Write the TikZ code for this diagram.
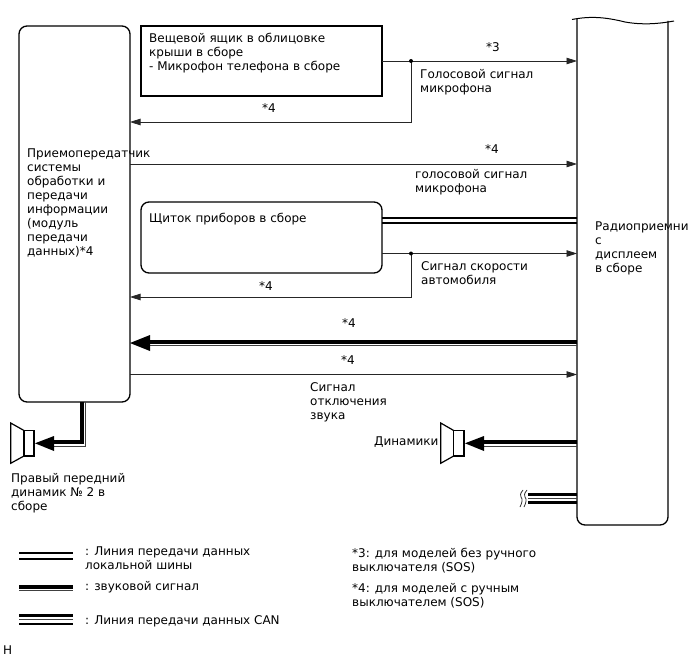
\documentclass[tikz,border=0pt]{standalone}
\usepackage{fontspec}
\setmainfont{DejaVu Sans}
\usetikzlibrary{arrows.meta}
\tikzset{
  lbl/.style={anchor=north west,inner sep=0pt,align=left,font=\fontsize{12}{14}\selectfont,text=black},
  box/.style={draw=black,line width=1.3pt},
  wire/.style={draw=black!85,line width=0.8pt},
  sig/.style={wire,-{Triangle[length=10.5pt,width=6.5pt]}},
  joint/.style={circle,fill=black,inner sep=0pt,minimum size=4pt},
  heavy/.style={draw=black,line width=3.8pt},
  fine/.style={draw=black!75,line width=1pt},
  busline/.style={draw=black,line width=2pt},
  canheavy/.style={draw=black,line width=2.4pt},
  cone/.style={draw=black,line width=1.2pt},
  bighead/.style={fill=black,draw=none},
}
\begin{document}
\begin{tikzpicture}[x=1pt,y=-1pt]
\useasboundingbox (0,0) rectangle (688,658);

% units
\draw[box,rounded corners=8pt] (19,26) rectangle (130,402);
\draw[box] (141,26) rectangle (382,96);
\draw[box,rounded corners=8pt] (141,202) rectangle (382,273);
\draw[box,rounded corners=8pt] (577,19) -- (577,525) -- (668,525) -- (668,21);
\draw[draw=black,line width=1pt] (572,19.5) .. controls (590,16) and (605,17) .. (625,22) .. controls (642,25) and (658,24) .. (674,21);

\coordinate (j1) at (411,61);
\coordinate (j2) at (411,253.5);

% signal wires
\draw[sig] (382,61) -- (577,61);
\draw[sig] (j1) -- (411,122) -- (130,122);
\node[joint] at (j1) {};
\draw[sig] (130,164) -- (577,164);
\draw[busline] (382,217.7) -- (577,217.7);
\draw[busline] (382,223.3) -- (577,223.3);
\draw[sig] (382,253.5) -- (577,253.5);
\draw[sig] (j2) -- (411,297) -- (130,297);
\node[joint] at (j2) {};
\draw[sig] (130,374.5) -- (577,374.5);

% audio line back to the transceiver
\draw[heavy] (577,341.8) -- (148,341.8);
\draw[fine] (577,345.7) -- (148,345.7);
\fill[bighead] (130,343) -- (150,335) -- (150,351) -- cycle;

% audio line to the front right speaker
\draw[heavy] (82,402) -- (82,442) -- (52,442);
\draw[fine] (85.7,402) -- (85.7,446) -- (52,446);
\fill[bighead] (35,443.3) -- (54,436) -- (54,451) -- cycle;

% audio line to the speakers
\draw[heavy] (577,442) -- (482,442);
\draw[fine] (577,446) -- (482,446);
\fill[bighead] (465,443.3) -- (484,436) -- (484,451) -- cycle;

% speaker symbols
\draw[cone] (24,430.5) -- (10.7,423) -- (10.7,463.3) -- (24,456);
\draw[cone] (24,430.5) rectangle (34,456);
\draw[cone] (453.7,430.5) -- (440.7,423) -- (440.7,463.3) -- (453.7,456);
\draw[cone] (453.7,430.5) rectangle (464,456);

% CAN line with break mark
\draw[canheavy] (528,494.3) -- (577,494.3);
\draw[fine] (528,498.5) -- (577,498.5);
\draw[canheavy] (528,502.3) -- (577,502.3);
\draw[draw=black!80,line width=0.8pt] (523,490) .. controls (520,494) and (520,495) .. (521,497) .. controls (523,499) and (522,503) .. (520,507);
\draw[draw=black!80,line width=0.8pt] (527,490) .. controls (524,494) and (524,495) .. (525,497) .. controls (527,499) and (526,503) .. (524,507);

% line styles key
\draw[busline] (19,553.3) -- (73,553.3);
\draw[busline] (19,559.3) -- (73,559.3);
\draw[heavy] (19,586.8) -- (73,586.8);
\draw[fine] (19,590.3) -- (73,590.3);
\draw[canheavy] (19,615.3) -- (73,615.3);
\draw[fine] (19,619.5) -- (73,619.5);
\draw[canheavy] (19,624) -- (73,624);

% labels
\node[lbl] (t1) at (149,33) {Вещевой ящик в облицовке\\крыши в сборе\\- Микрофон телефона в сборе};
\node[lbl] (t2) at (27,149) {Приемопередатчик\\системы\\обработки и\\передачи\\информации\\(модуль\\передачи\\данных)*4};
\node[lbl] (t3) at (149,213) {Щиток приборов в сборе};
\node[lbl] (t4) at (595,222) {Радиоприемни\\с\\дисплеем\\в сборе};
\node[lbl] (t5) at (486,42) {*3};
\node[lbl] (t6) at (420,69) {Голосовой сигнал\\микрофона};
\node[lbl] (t7) at (262,103) {*4};
\node[lbl] (t8) at (485,144) {*4};
\node[lbl] (t9) at (415,169) {голосовой сигнал\\микрофона};
\node[lbl] (t10) at (421,261) {Сигнал скорости\\автомобиля};
\node[lbl] (t11) at (259,281) {*4};
\node[lbl] (t12) at (342,318) {*4};
\node[lbl] (t13) at (341,355) {*4};
\node[lbl] (t14) at (310,382) {Сигнал\\отключения\\звука};
\node[lbl] (t15) at (374,437) {Динамики};
\node[lbl] (t16) at (11,473) {Правый передний\\динамик № 2 в\\сборе};
\node[lbl] (t17) at (85,547) {: Линия передачи данных\\локальной шины};
\node[lbl] (t18) at (85,581) {: звуковой сигнал};
\node[lbl] (t19) at (85,615) {: Линия передачи данных CAN};
\node[lbl] (t20) at (352,548) {*3: для моделей без ручного\\выключателя (SOS)};
\node[lbl] (t21) at (352,583) {*4: для моделей с ручным\\выключателем (SOS)};
\node[lbl] (t22) at (3,646) {H};
\end{tikzpicture}
\end{document}
